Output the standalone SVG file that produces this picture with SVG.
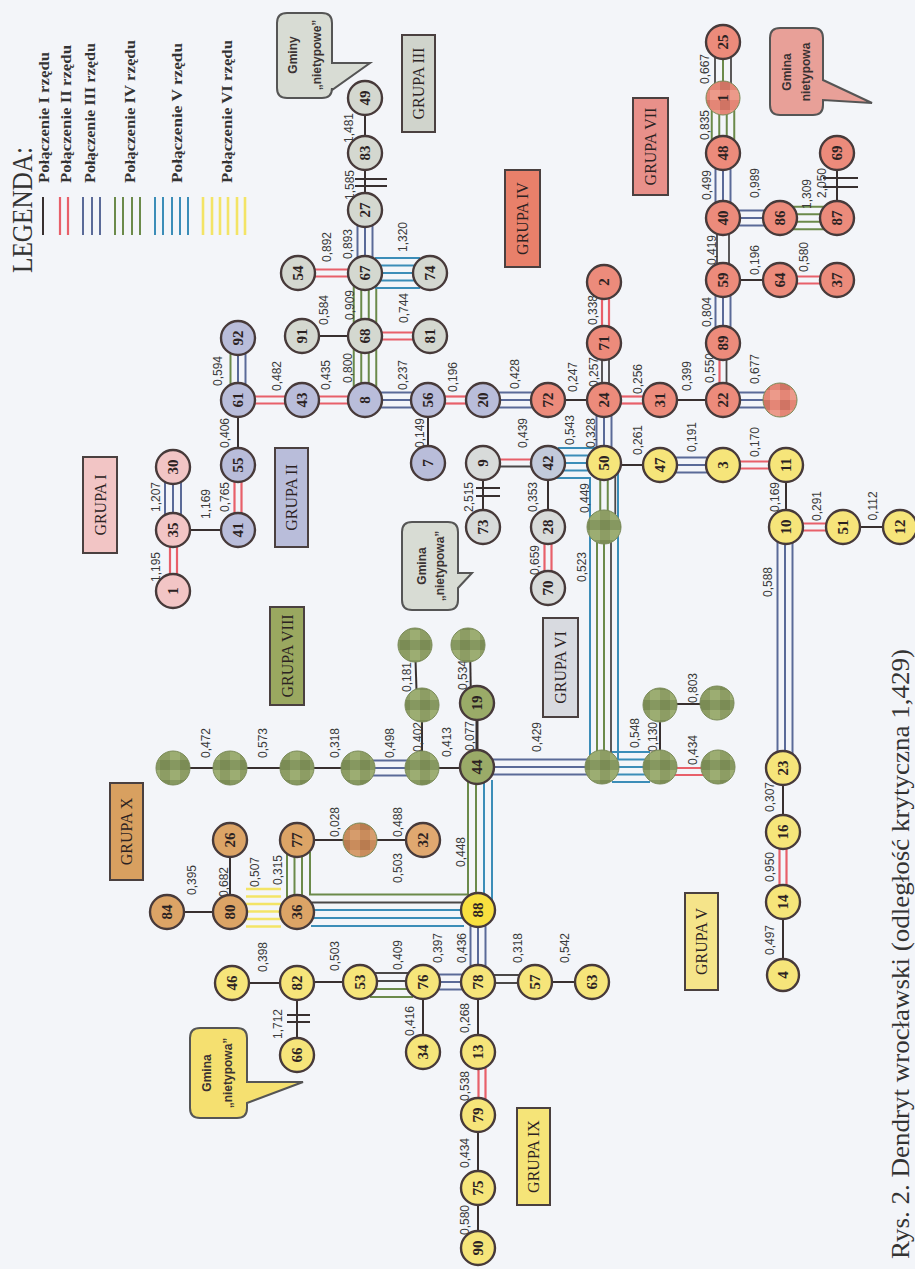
<svg xmlns="http://www.w3.org/2000/svg" width="915" height="1269" viewBox="0 0 915 1269">
<defs>
<pattern id="mg" width="20" height="20" patternUnits="userSpaceOnUse"><rect width="20" height="20" fill="#8d9d64"/><rect width="10" height="10" fill="#7b8c55"/><rect x="10" y="10" width="10" height="10" fill="#9cad72"/><rect x="10" width="10" height="10" fill="#869860"/></pattern>
<pattern id="mo" width="20" height="20" patternUnits="userSpaceOnUse"><rect width="20" height="20" fill="#c98c5c"/><rect width="10" height="10" fill="#b97c50"/><rect x="10" y="10" width="10" height="10" fill="#d69c6c"/></pattern>
<pattern id="ms" width="20" height="20" patternUnits="userSpaceOnUse"><rect width="20" height="20" fill="#e48676"/><rect width="10" height="10" fill="#d07464"/><rect x="10" y="10" width="10" height="10" fill="#ec9a8a"/></pattern>
</defs>
<style>
.k{stroke:#383030;stroke-width:2}
.r{stroke:#e8606a;stroke-width:2.2}
.b{stroke:#5a6a98;stroke-width:2}
.g{stroke:#6b8a4a;stroke-width:2}
.t{stroke:#3b8db8;stroke-width:2}
.y{stroke:#f3e466;stroke-width:2.6}
.d{stroke:#4a4848;stroke-width:1.8}
circle{stroke:#473a3a;stroke-width:2.4}
circle.m{stroke:#7a8a58;stroke-width:1}
.cI{fill:#f2c5c5}.cII{fill:#b9bdda}.cIII{fill:#d4d8d0}.cIV{fill:#ec8b7b}.cV{fill:#f6e57a}.cX{fill:#dca466}.cG{fill:#d8dbda}.c42{fill:#c2cadb}.cVIII{fill:#9aab68}
.nl{font-family:"Liberation Serif",serif;font-weight:bold;font-size:15px;text-anchor:middle;dominant-baseline:central;fill:#2b2222}
.el{font-family:"Liberation Sans",sans-serif;font-size:12px;text-anchor:middle;dominant-baseline:central;fill:#3a3a3a}
.gb{stroke:#4a4040;stroke-width:2}
.gt{font-family:"Liberation Serif",serif;font-size:16px;text-anchor:middle;dominant-baseline:central;fill:#2b2222}
.bt{font-family:"Liberation Sans",sans-serif;font-weight:bold;font-size:12px;text-anchor:middle;dominant-baseline:central;fill:#3a3232}
.lg{font-family:"Liberation Serif",serif;font-weight:bold;font-size:14px;fill:#333}
</style>
<rect width="915" height="1269" fill="#f3f5f9"/>

<g id="legend">
<text transform="translate(32 273) rotate(-90)" font-family="Liberation Serif, serif" font-size="29" fill="#333" textLength="126" lengthAdjust="spacingAndGlyphs">LEGENDA:</text>
<text class="lg" transform="translate(49 183) rotate(-90)" textLength="131" lengthAdjust="spacingAndGlyphs">Połączenie I  rzędu</text>
<text class="lg" transform="translate(71 183) rotate(-90)" textLength="138" lengthAdjust="spacingAndGlyphs">Połączenie II  rzędu</text>
<text class="lg" transform="translate(95 183) rotate(-90)" textLength="140" lengthAdjust="spacingAndGlyphs">Połączenie III rzędu</text>
<text class="lg" transform="translate(135 183) rotate(-90)" textLength="143" lengthAdjust="spacingAndGlyphs">Połączenie IV  rzędu</text>
<text class="lg" transform="translate(182 183) rotate(-90)" textLength="140" lengthAdjust="spacingAndGlyphs">Połączenie V  rzędu</text>
<text class="lg" transform="translate(232 183) rotate(-90)" textLength="143" lengthAdjust="spacingAndGlyphs">Połączenie VI  rzędu</text>
<line class="k" x1="43" y1="197" x2="43" y2="235"/>
<line class="r" x1="60" y1="197" x2="60" y2="235"/><line class="r" x1="68" y1="197" x2="68" y2="235"/>
<line class="b" x1="83" y1="197" x2="83" y2="235"/><line class="b" x1="92" y1="197" x2="92" y2="235"/><line class="b" x1="100" y1="197" x2="100" y2="235"/>
<line class="g" x1="115" y1="197" x2="115" y2="235"/><line class="g" x1="123" y1="197" x2="123" y2="235"/><line class="g" x1="132" y1="197" x2="132" y2="235"/><line class="g" x1="140" y1="197" x2="140" y2="235"/>
<line class="t" x1="155" y1="197" x2="155" y2="235"/><line class="t" x1="163" y1="197" x2="163" y2="235"/><line class="t" x1="172" y1="197" x2="172" y2="235"/><line class="t" x1="180" y1="197" x2="180" y2="235"/><line class="t" x1="188" y1="197" x2="188" y2="235"/>
<line class="y" x1="203" y1="197" x2="203" y2="235"/><line class="y" x1="212" y1="197" x2="212" y2="235"/><line class="y" x1="220" y1="197" x2="220" y2="235"/><line class="y" x1="228" y1="197" x2="228" y2="235"/><line class="y" x1="237" y1="197" x2="237" y2="235"/><line class="y" x1="245" y1="197" x2="245" y2="235"/>
</g>

<g id="group-labels">
<rect class="gb" x="83" y="457" width="34" height="96" fill="#f2c5c5"/><text class="gt" transform="translate(100 505) rotate(-90)">GRUPA I</text>
<rect class="gb" x="275" y="448" width="33" height="99" fill="#b9bdda"/><text class="gt" transform="translate(291.5 497.5) rotate(-90)">GRUPA II</text>
<rect class="gb" x="402" y="35" width="33" height="97" fill="#d0d4cc"/><text class="gt" transform="translate(418.5 83.5) rotate(-90)">GRUPA III</text>
<rect class="gb" x="505" y="170" width="35" height="97" fill="#e8806a"/><text class="gt" transform="translate(522.5 218.5) rotate(-90)">GRUPA IV</text>
<rect class="gb" x="685" y="893" width="33" height="97" fill="#f5e48a"/><text class="gt" transform="translate(701.5 941.5) rotate(-90)">GRUPA V</text>
<rect class="gb" x="543" y="618" width="35" height="99" fill="#d8dae0"/><text class="gt" transform="translate(560.5 667.5) rotate(-90)">GRUPA VI</text>
<rect class="gb" x="633" y="98" width="35" height="97" fill="#e8908a"/><text class="gt" transform="translate(650.5 146.5) rotate(-90)">GRUPA VII</text>
<rect class="gb" x="270" y="607" width="34" height="98" fill="#9aa860"/><text class="gt" transform="translate(287 656) rotate(-90)">GRUPA VIII</text>
<rect class="gb" x="517" y="1108" width="33" height="97" fill="#f5e478"/><text class="gt" transform="translate(533.5 1156.5) rotate(-90)">GRUPA IX</text>
<rect class="gb" x="110" y="783" width="33" height="97" fill="#d8a060"/><text class="gt" transform="translate(126.5 831.5) rotate(-90)">GRUPA X</text>
</g>

<g id="callouts">
<g id="callout-3">
<path d="M287 13 H322 Q332 13 332 23 V63 H370 L332 90 V88 Q332 98 322 98 H287 Q277 98 277 88 V23 Q277 13 287 13 Z" fill="#d8dcd4" stroke="#555" stroke-width="2"/>
<text class="bt" transform="translate(293 55) rotate(-90)">Gminy</text>
<text class="bt" transform="translate(317 55) rotate(-90)">„nietypowe”</text>
</g>
<g id="callout-7">
<path d="M780 28 H813 Q823 28 823 38 V80 L872 103 L823 100 V105 Q823 115 813 115 H780 Q770 115 770 105 V38 Q770 28 780 28 Z" fill="#e8a098" stroke="#555" stroke-width="2"/>
<text class="bt" transform="translate(787 72) rotate(-90)">Gmina</text>
<text class="bt" transform="translate(806 72) rotate(-90)">nietypowa</text>
</g>
<g id="callout-6">
<path d="M412 522 H448 Q458 522 458 532 V573 H472 L458 588 V600 Q458 610 448 610 H412 Q402 610 402 600 V532 Q402 522 412 522 Z" fill="#d8dcd4" stroke="#555" stroke-width="2"/>
<text class="bt" transform="translate(422 566) rotate(-90)">Gmina</text>
<text class="bt" transform="translate(440 566) rotate(-90)">„nietypowa”</text>
</g>
<g id="callout-9">
<path d="M200 1028 H237 Q247 1028 247 1038 V1082 H303 L247 1103 V1108 Q247 1118 237 1118 H200 Q190 1118 190 1108 V1038 Q190 1028 200 1028 Z" fill="#f5e070" stroke="#555" stroke-width="2"/>
<text class="bt" transform="translate(207 1073) rotate(-90)">Gmina</text>
<text class="bt" transform="translate(228 1073) rotate(-90)">„nietypowa”</text>
</g>
</g>

<g id="connectors" fill="none">
<line class="r" x1="170" y1="542" x2="170" y2="579"/><line class="r" x1="177" y1="542" x2="177" y2="579"/>
<line class="b" x1="165" y1="479" x2="165" y2="518"/><line class="b" x1="173" y1="479" x2="173" y2="518"/><line class="b" x1="181" y1="479" x2="181" y2="518"/>
<line class="k" x1="173" y1="530" x2="238" y2="530"/>
<line class="r" x1="234.5" y1="477" x2="234.5" y2="518"/><line class="r" x1="241.5" y1="477" x2="241.5" y2="518"/>
<line class="k" x1="238" y1="400" x2="238" y2="465"/>
<line class="g" x1="230.5" y1="350" x2="230.5" y2="388"/><line class="b" x1="238" y1="350" x2="238" y2="388"/><line class="b" x1="245.5" y1="350" x2="245.5" y2="388"/>
<line class="r" x1="250" y1="396.5" x2="290" y2="396.5"/><line class="r" x1="250" y1="403.5" x2="290" y2="403.5"/>
<line class="r" x1="314" y1="396.5" x2="353" y2="396.5"/><line class="r" x1="314" y1="403.5" x2="353" y2="403.5"/>
<line class="g" x1="353.75" y1="348" x2="353.75" y2="388"/><line class="g" x1="361.25" y1="348" x2="361.25" y2="388"/><line class="g" x1="368.75" y1="348" x2="368.75" y2="388"/><line class="g" x1="376.25" y1="348" x2="376.25" y2="388"/>
<line class="b" x1="377" y1="392.5" x2="416" y2="392.5"/><line class="b" x1="377" y1="400" x2="416" y2="400"/><line class="b" x1="377" y1="407.5" x2="416" y2="407.5"/>
<line class="k" x1="428" y1="400" x2="428" y2="463"/>
<line class="r" x1="440" y1="396.5" x2="471" y2="396.5"/><line class="r" x1="440" y1="403.5" x2="471" y2="403.5"/>
<line class="b" x1="495" y1="392.5" x2="536" y2="392.5"/><line class="b" x1="495" y1="400" x2="536" y2="400"/><line class="b" x1="495" y1="407.5" x2="536" y2="407.5"/>
<line class="k" x1="548" y1="400" x2="604" y2="400"/>
<line class="k" x1="302" y1="336" x2="365" y2="336"/>
<line class="r" x1="377" y1="332.5" x2="418" y2="332.5"/><line class="r" x1="377" y1="339.5" x2="418" y2="339.5"/>
<line class="g" x1="353.75" y1="285" x2="353.75" y2="324"/><line class="g" x1="361.25" y1="285" x2="361.25" y2="324"/><line class="g" x1="368.75" y1="285" x2="368.75" y2="324"/><line class="g" x1="376.25" y1="285" x2="376.25" y2="324"/>
<line class="r" x1="310" y1="269.5" x2="353" y2="269.5"/><line class="r" x1="310" y1="276.5" x2="353" y2="276.5"/>
<line class="t" x1="375" y1="258" x2="420" y2="258"/><line class="t" x1="377" y1="265.5" x2="418" y2="265.5"/><line class="t" x1="377" y1="273" x2="418" y2="273"/><line class="t" x1="377" y1="280.5" x2="418" y2="280.5"/><line class="t" x1="375" y1="288" x2="420" y2="288"/>
<line class="b" x1="357.5" y1="222" x2="357.5" y2="261"/><line class="b" x1="365" y1="222" x2="365" y2="261"/><line class="b" x1="372.5" y1="222" x2="372.5" y2="261"/>
<line class="k" x1="365" y1="153" x2="365" y2="210"/>
<line class="k" x1="355" y1="179" x2="387" y2="179"/><line class="k" x1="355" y1="186" x2="387" y2="186"/>
<line class="k" x1="365" y1="98" x2="365" y2="153"/>
<line class="r" x1="602" y1="294" x2="602" y2="331"/><line class="r" x1="609" y1="294" x2="609" y2="331"/>
<line class="d" x1="602" y1="355" x2="602" y2="388"/><line class="d" x1="609" y1="355" x2="609" y2="388"/>
<line class="r" x1="616" y1="396.5" x2="648" y2="396.5"/><line class="r" x1="616" y1="403.5" x2="648" y2="403.5"/>
<line class="k" x1="660" y1="400" x2="723" y2="400"/>
<line class="r" x1="719.5" y1="355" x2="719.5" y2="388"/><line class="d" x1="726.5" y1="355" x2="726.5" y2="388"/>
<line class="b" x1="735" y1="392.5" x2="768" y2="392.5"/><line class="b" x1="735" y1="400" x2="768" y2="400"/><line class="b" x1="735" y1="407.5" x2="768" y2="407.5"/>
<line class="b" x1="715.5" y1="292" x2="715.5" y2="331"/><line class="b" x1="723" y1="292" x2="723" y2="331"/><line class="b" x1="730.5" y1="292" x2="730.5" y2="331"/>
<line class="d" x1="717" y1="230" x2="717" y2="268"/><line class="d" x1="729" y1="230" x2="729" y2="268"/>
<line class="b" x1="715.5" y1="165" x2="715.5" y2="206"/><line class="b" x1="723" y1="165" x2="723" y2="206"/><line class="b" x1="730.5" y1="165" x2="730.5" y2="206"/>
<line class="g" x1="711.75" y1="110" x2="711.75" y2="141"/><line class="g" x1="719.25" y1="110" x2="719.25" y2="141"/><line class="g" x1="726.75" y1="110" x2="726.75" y2="141"/><line class="g" x1="734.25" y1="110" x2="734.25" y2="141"/>
<line class="d" x1="715" y1="54" x2="715" y2="86"/><line class="g" x1="723" y1="54" x2="723" y2="86"/><line class="d" x1="731" y1="54" x2="731" y2="86"/>
<line class="b" x1="735" y1="210.5" x2="768" y2="210.5"/><line class="b" x1="735" y1="218" x2="768" y2="218"/><line class="b" x1="735" y1="225.5" x2="768" y2="225.5"/>
<line class="g" x1="792" y1="206.75" x2="825" y2="206.75"/><line class="g" x1="792" y1="214.25" x2="825" y2="214.25"/><line class="g" x1="792" y1="221.75" x2="825" y2="221.75"/><line class="g" x1="792" y1="229.25" x2="825" y2="229.25"/>
<line class="k" x1="837" y1="153" x2="837" y2="218"/>
<line class="k" x1="823" y1="178" x2="858" y2="178"/><line class="k" x1="823" y1="187" x2="858" y2="187"/>
<line class="k" x1="723" y1="280" x2="780" y2="280"/>
<line class="r" x1="792" y1="276.5" x2="825" y2="276.5"/><line class="r" x1="792" y1="283.5" x2="825" y2="283.5"/>
<line class="b" x1="596.5" y1="412" x2="596.5" y2="451"/><line class="b" x1="604" y1="412" x2="604" y2="451"/><line class="b" x1="611.5" y1="412" x2="611.5" y2="451"/>
<line class="g" x1="600.25" y1="475" x2="600.25" y2="515"/><line class="g" x1="607.75" y1="475" x2="607.75" y2="515"/><line class="d" x1="615.25" y1="475" x2="615.25" y2="515"/>
<path class="t" d="M556 478 H590 V755"/>
<line class="g" x1="597" y1="539" x2="597" y2="755"/><line class="g" x1="604" y1="539" x2="604" y2="755"/><line class="d" x1="611" y1="539" x2="611" y2="755"/><line class="t" x1="618" y1="470" x2="618" y2="760"/>
<line class="t" x1="558" y1="448" x2="596" y2="448"/><line class="t" x1="560" y1="455.5" x2="592" y2="455.5"/><line class="t" x1="560" y1="463" x2="592" y2="463"/><line class="t" x1="560" y1="470.5" x2="592" y2="470.5"/>
<line class="k" x1="604" y1="465" x2="660" y2="465"/>
<line class="b" x1="672" y1="457.5" x2="711" y2="457.5"/><line class="b" x1="672" y1="465" x2="711" y2="465"/><line class="b" x1="672" y1="472.5" x2="711" y2="472.5"/>
<line class="r" x1="735" y1="461.5" x2="774" y2="461.5"/><line class="r" x1="735" y1="468.5" x2="774" y2="468.5"/>
<line class="k" x1="786" y1="465" x2="786" y2="527"/>
<line class="r" x1="798" y1="523.5" x2="831" y2="523.5"/><line class="r" x1="798" y1="530.5" x2="831" y2="530.5"/>
<line class="k" x1="843" y1="527" x2="900" y2="527"/>
<line class="b" x1="777.5" y1="539" x2="777.5" y2="756"/><line class="b" x1="785" y1="539" x2="785" y2="756"/><line class="b" x1="792.5" y1="539" x2="792.5" y2="756"/>
<line class="k" x1="783" y1="768" x2="783" y2="832"/>
<line class="r" x1="779.5" y1="844" x2="779.5" y2="890"/><line class="r" x1="786.5" y1="844" x2="786.5" y2="890"/>
<line class="k" x1="783" y1="902" x2="783" y2="975"/>
<line class="r" x1="495" y1="459.5" x2="536" y2="459.5"/><line class="d" x1="495" y1="466.5" x2="536" y2="466.5"/>
<line class="k" x1="483" y1="463" x2="483" y2="527"/>
<line class="k" x1="476" y1="488" x2="500" y2="488"/><line class="k" x1="476" y1="496" x2="500" y2="496"/>
<line class="k" x1="548" y1="463" x2="548" y2="527"/>
<line class="r" x1="544.5" y1="539" x2="544.5" y2="576"/><line class="r" x1="551.5" y1="539" x2="551.5" y2="576"/>
<line class="k" x1="173" y1="768" x2="358" y2="768"/>
<line class="b" x1="370" y1="760.5" x2="410" y2="760.5"/><line class="b" x1="370" y1="768" x2="410" y2="768"/><line class="b" x1="370" y1="775.5" x2="410" y2="775.5"/>
<line class="k" x1="422" y1="768" x2="477" y2="768"/>
<line class="k" x1="422" y1="705" x2="422" y2="768"/>
<line class="k" x1="415" y1="645" x2="417" y2="705"/>
<line class="k" x1="470" y1="645" x2="471" y2="703"/>
<line class="k" x1="477" y1="703" x2="477" y2="767" style="stroke-width:3"/>
<line class="b" x1="489" y1="759.5" x2="590" y2="759.5"/><line class="b" x1="489" y1="767" x2="590" y2="767"/><line class="b" x1="489" y1="774.5" x2="590" y2="774.5"/>
<path class="g" d="M468 780 V894.5 H310 V852"/>
<line class="g" x1="476" y1="782" x2="476" y2="898"/><line class="t" x1="484" y1="782" x2="484" y2="898"/><line class="t" x1="492" y1="780" x2="492" y2="900"/>
<line class="d" x1="312" y1="902.5" x2="466" y2="902.5"/><line class="t" x1="309" y1="910" x2="466" y2="910"/><line class="t" x1="309" y1="918" x2="466" y2="918"/><line class="t" x1="311" y1="926" x2="464" y2="926"/>
<line class="k" x1="167" y1="912" x2="230" y2="912"/>
<line class="k" x1="230" y1="840" x2="230" y2="912"/>
<line class="y" x1="246" y1="889" x2="281" y2="889"/><line class="y" x1="246" y1="896.5" x2="281" y2="896.5"/><line class="y" x1="246" y1="904" x2="281" y2="904"/><line class="y" x1="246" y1="911.5" x2="281" y2="911.5"/><line class="y" x1="246" y1="919" x2="281" y2="919"/><line class="y" x1="246" y1="926.5" x2="281" y2="926.5"/>
<line class="g" x1="287" y1="852" x2="287" y2="900"/><line class="g" x1="294.5" y1="852" x2="294.5" y2="900"/><line class="g" x1="302" y1="852" x2="302" y2="900"/>
<line class="k" x1="297" y1="840" x2="423" y2="840"/>
<line class="k" x1="232" y1="983" x2="297" y2="983"/>
<line class="k" x1="297" y1="983" x2="297" y2="1055"/>
<line class="k" x1="287" y1="1015" x2="310" y2="1015"/><line class="k" x1="287" y1="1022" x2="310" y2="1022"/>
<line class="k" x1="297" y1="982" x2="360" y2="982"/>
<line class="d" x1="372" y1="973" x2="411" y2="973"/><line class="d" x1="372" y1="981" x2="411" y2="981"/><line class="g" x1="372" y1="989" x2="411" y2="989"/><line class="g" x1="370" y1="997" x2="413" y2="997"/>
<line class="b" x1="435" y1="974.5" x2="466" y2="974.5"/><line class="b" x1="435" y1="982" x2="466" y2="982"/><line class="b" x1="435" y1="989.5" x2="466" y2="989.5"/>
<line class="b" x1="470.5" y1="922" x2="470.5" y2="970"/><line class="b" x1="478" y1="922" x2="478" y2="970"/><line class="b" x1="485.5" y1="922" x2="485.5" y2="970"/>
<line class="d" x1="490" y1="975" x2="523" y2="975"/><line class="d" x1="490" y1="983" x2="523" y2="983"/>
<line class="k" x1="535" y1="982" x2="592" y2="982"/>
<line class="k" x1="423" y1="982" x2="423" y2="1052"/>
<line class="k" x1="478" y1="982" x2="478" y2="1052"/>
<line class="r" x1="478.5" y1="1064" x2="478.5" y2="1103"/><line class="r" x1="485.5" y1="1064" x2="485.5" y2="1103"/>
<line class="k" x1="478" y1="1115" x2="478" y2="1248"/>
<line class="t" x1="612" y1="752" x2="650" y2="752"/><line class="t" x1="614" y1="759.5" x2="648" y2="759.5"/><line class="t" x1="614" y1="767" x2="648" y2="767"/><line class="t" x1="614" y1="774.5" x2="648" y2="774.5"/><line class="t" x1="612" y1="782" x2="650" y2="782"/>
<line class="k" x1="660" y1="705" x2="660" y2="767"/>
<line class="k" x1="660" y1="704" x2="717" y2="704"/>
<line class="r" x1="672" y1="768" x2="706" y2="768"/><line class="r" x1="672" y1="775" x2="706" y2="775"/>
</g>

<g id="edge-labels">
<text class="el" transform="translate(349 128) rotate(-90)">1,481</text>
<text class="el" transform="translate(350 185) rotate(-90)">1,585</text>
<text class="el" transform="translate(327 247) rotate(-90)">0,892</text>
<text class="el" transform="translate(348 244) rotate(-90)">0,893</text>
<text class="el" transform="translate(403 237) rotate(-90)">1,320</text>
<text class="el" transform="translate(324 310) rotate(-90)">0,584</text>
<text class="el" transform="translate(350 305) rotate(-90)">0,909</text>
<text class="el" transform="translate(404 308) rotate(-90)">0,744</text>
<text class="el" transform="translate(593 310) rotate(-90)">0,338</text>
<text class="el" transform="translate(705 69) rotate(-90)">0,667</text>
<text class="el" transform="translate(705 125) rotate(-90)">0,835</text>
<text class="el" transform="translate(707 185) rotate(-90)">0,499</text>
<text class="el" transform="translate(755 183) rotate(-90)">0,989</text>
<text class="el" transform="translate(807 194) rotate(-90)">1,309</text>
<text class="el" transform="translate(822 183) rotate(-90)">2,050</text>
<text class="el" transform="translate(712 250) rotate(-90)">0,419</text>
<text class="el" transform="translate(755 260) rotate(-90)">0,196</text>
<text class="el" transform="translate(804 257) rotate(-90)">0,580</text>
<text class="el" transform="translate(707 312) rotate(-90)">0,804</text>
<text class="el" transform="translate(156 497) rotate(-90)">1,207</text>
<text class="el" transform="translate(206 504) rotate(-90)">1,169</text>
<text class="el" transform="translate(156 567) rotate(-90)">1,195</text>
<text class="el" transform="translate(225 497) rotate(-90)">0,765</text>
<text class="el" transform="translate(225 433) rotate(-90)">0,406</text>
<text class="el" transform="translate(218 371) rotate(-90)">0,594</text>
<text class="el" transform="translate(277 376) rotate(-90)">0,482</text>
<text class="el" transform="translate(326 375) rotate(-90)">0,435</text>
<text class="el" transform="translate(348 368) rotate(-90)">0,800</text>
<text class="el" transform="translate(403 375) rotate(-90)">0,237</text>
<text class="el" transform="translate(453 377) rotate(-90)">0,196</text>
<text class="el" transform="translate(515 374) rotate(-90)">0,428</text>
<text class="el" transform="translate(573 377) rotate(-90)">0,247</text>
<text class="el" transform="translate(594 372) rotate(-90)">0,257</text>
<text class="el" transform="translate(420 433) rotate(-90)">0,149</text>
<text class="el" transform="translate(523 433) rotate(-90)">0,439</text>
<text class="el" transform="translate(570 430) rotate(-90)">0,543</text>
<text class="el" transform="translate(591 433) rotate(-90)">0,328</text>
<text class="el" transform="translate(469 497) rotate(-90)">2,515</text>
<text class="el" transform="translate(533 497) rotate(-90)">0,353</text>
<text class="el" transform="translate(535 560) rotate(-90)">0,659</text>
<text class="el" transform="translate(585 498) rotate(-90)">0,449</text>
<text class="el" transform="translate(582 567) rotate(-90)">0,523</text>
<text class="el" transform="translate(638 379) rotate(-90)">0,256</text>
<text class="el" transform="translate(687 376) rotate(-90)">0,399</text>
<text class="el" transform="translate(710 368) rotate(-90)">0,550</text>
<text class="el" transform="translate(755 369) rotate(-90)">0,677</text>
<text class="el" transform="translate(638 440) rotate(-90)">0,261</text>
<text class="el" transform="translate(692 437) rotate(-90)">0,191</text>
<text class="el" transform="translate(755 442) rotate(-90)">0,170</text>
<text class="el" transform="translate(775 497) rotate(-90)">0,169</text>
<text class="el" transform="translate(817 506) rotate(-90)">0,291</text>
<text class="el" transform="translate(873 506) rotate(-90)">0,112</text>
<text class="el" transform="translate(768 582) rotate(-90)">0,588</text>
<text class="el" transform="translate(206 743) rotate(-90)">0,472</text>
<text class="el" transform="translate(263 743) rotate(-90)">0,573</text>
<text class="el" transform="translate(192 880) rotate(-90)">0,395</text>
<text class="el" transform="translate(224 882) rotate(-90)">0,682</text>
<text class="el" transform="translate(255 872) rotate(-90)">0,507</text>
<text class="el" transform="translate(278 870) rotate(-90)">0,315</text>
<text class="el" transform="translate(263 957) rotate(-90)">0,398</text>
<text class="el" transform="translate(407 677) rotate(-90)">0,181</text>
<text class="el" transform="translate(463 675) rotate(-90)">0,534</text>
<text class="el" transform="translate(390 743) rotate(-90)">0,498</text>
<text class="el" transform="translate(418 737) rotate(-90)">0,402</text>
<text class="el" transform="translate(447 742) rotate(-90)">0,413</text>
<text class="el" transform="translate(470 736) rotate(-90)">0,077</text>
<text class="el" transform="translate(537 737) rotate(-90)">0,429</text>
<text class="el" transform="translate(335 743) rotate(-90)">0,318</text>
<text class="el" transform="translate(335 822) rotate(-90)">0,028</text>
<text class="el" transform="translate(398 822) rotate(-90)">0,488</text>
<text class="el" transform="translate(398 868) rotate(-90)">0,503</text>
<text class="el" transform="translate(461 852) rotate(-90)">0,448</text>
<text class="el" transform="translate(335 956) rotate(-90)">0,503</text>
<text class="el" transform="translate(398 955) rotate(-90)">0,409</text>
<text class="el" transform="translate(438 948) rotate(-90)">0,397</text>
<text class="el" transform="translate(462 948) rotate(-90)">0,436</text>
<text class="el" transform="translate(518 948) rotate(-90)">0,318</text>
<text class="el" transform="translate(565 948) rotate(-90)">0,542</text>
<text class="el" transform="translate(635 733) rotate(-90)">0,548</text>
<text class="el" transform="translate(653 737) rotate(-90)">0,130</text>
<text class="el" transform="translate(693 688) rotate(-90)">0,803</text>
<text class="el" transform="translate(693 750) rotate(-90)">0,434</text>
<text class="el" transform="translate(770 797) rotate(-90)">0,307</text>
<text class="el" transform="translate(770 867) rotate(-90)">0,950</text>
<text class="el" transform="translate(770 940) rotate(-90)">0,497</text>
<text class="el" transform="translate(278 1024) rotate(-90)">1,712</text>
<text class="el" transform="translate(410 1021) rotate(-90)">0,416</text>
<text class="el" transform="translate(465 1018) rotate(-90)">0,268</text>
<text class="el" transform="translate(465 1086) rotate(-90)">0,538</text>
<text class="el" transform="translate(465 1153) rotate(-90)">0,434</text>
<text class="el" transform="translate(465 1220) rotate(-90)">0,580</text>
</g>

<g id="nodes">
<g id="n1"><circle class="cI" cx="173" cy="591" r="17"/><text class="nl" transform="translate(173 591) rotate(-90)">1</text></g>
<g id="n35"><circle class="cI" cx="173" cy="530" r="17"/><text class="nl" transform="translate(173 530) rotate(-90)">35</text></g>
<g id="n30"><circle class="cI" cx="173" cy="467" r="17"/><text class="nl" transform="translate(173 467) rotate(-90)">30</text></g>
<g id="n41"><circle class="cII" cx="238" cy="530" r="17"/><text class="nl" transform="translate(238 530) rotate(-90)">41</text></g>
<g id="n55"><circle class="cII" cx="238" cy="465" r="17"/><text class="nl" transform="translate(238 465) rotate(-90)">55</text></g>
<g id="n61"><circle class="cII" cx="238" cy="400" r="17"/><text class="nl" transform="translate(238 400) rotate(-90)">61</text></g>
<g id="n92"><circle class="cII" cx="238" cy="338" r="17"/><text class="nl" transform="translate(238 338) rotate(-90)">92</text></g>
<g id="n43"><circle class="cII" cx="302" cy="400" r="17"/><text class="nl" transform="translate(302 400) rotate(-90)">43</text></g>
<g id="n8"><circle class="cII" cx="365" cy="400" r="17"/><text class="nl" transform="translate(365 400) rotate(-90)">8</text></g>
<g id="n56"><circle class="cII" cx="428" cy="400" r="17"/><text class="nl" transform="translate(428 400) rotate(-90)">56</text></g>
<g id="n7"><circle class="cII" cx="428" cy="463" r="17"/><text class="nl" transform="translate(428 463) rotate(-90)">7</text></g>
<g id="n20"><circle class="cII" cx="483" cy="400" r="17"/><text class="nl" transform="translate(483 400) rotate(-90)">20</text></g>
<g id="n9"><circle class="cG" cx="483" cy="463" r="17"/><text class="nl" transform="translate(483 463) rotate(-90)">9</text></g>
<g id="n73"><circle class="cG" cx="483" cy="527" r="17"/><text class="nl" transform="translate(483 527) rotate(-90)">73</text></g>
<g id="n28"><circle class="cG" cx="548" cy="527" r="17"/><text class="nl" transform="translate(548 527) rotate(-90)">28</text></g>
<g id="n70"><circle class="cG" cx="548" cy="588" r="17"/><text class="nl" transform="translate(548 588) rotate(-90)">70</text></g>
<g id="n42"><circle class="c42" cx="548" cy="463" r="17"/><text class="nl" transform="translate(548 463) rotate(-90)">42</text></g>
<g id="n49"><circle class="cIII" cx="365" cy="98" r="17"/><text class="nl" transform="translate(365 98) rotate(-90)">49</text></g>
<g id="n83"><circle class="cIII" cx="365" cy="153" r="17"/><text class="nl" transform="translate(365 153) rotate(-90)">83</text></g>
<g id="n27"><circle class="cIII" cx="365" cy="210" r="17"/><text class="nl" transform="translate(365 210) rotate(-90)">27</text></g>
<g id="n67"><circle class="cIII" cx="365" cy="273" r="17"/><text class="nl" transform="translate(365 273) rotate(-90)">67</text></g>
<g id="n74"><circle class="cIII" cx="430" cy="273" r="17"/><text class="nl" transform="translate(430 273) rotate(-90)">74</text></g>
<g id="n54"><circle class="cIII" cx="298" cy="273" r="17"/><text class="nl" transform="translate(298 273) rotate(-90)">54</text></g>
<g id="n68"><circle class="cIII" cx="365" cy="336" r="17"/><text class="nl" transform="translate(365 336) rotate(-90)">68</text></g>
<g id="n91"><circle class="cIII" cx="302" cy="336" r="17"/><text class="nl" transform="translate(302 336) rotate(-90)">91</text></g>
<g id="n81"><circle class="cIII" cx="430" cy="336" r="17"/><text class="nl" transform="translate(430 336) rotate(-90)">81</text></g>
<g id="n72"><circle class="cIV" cx="548" cy="400" r="17"/><text class="nl" transform="translate(548 400) rotate(-90)">72</text></g>
<g id="n24"><circle class="cIV" cx="604" cy="400" r="17"/><text class="nl" transform="translate(604 400) rotate(-90)">24</text></g>
<g id="n71"><circle class="cIV" cx="604" cy="343" r="17"/><text class="nl" transform="translate(604 343) rotate(-90)">71</text></g>
<g id="n2"><circle class="cIV" cx="604" cy="282" r="17"/><text class="nl" transform="translate(604 282) rotate(-90)">2</text></g>
<g id="n31"><circle class="cIV" cx="660" cy="400" r="17"/><text class="nl" transform="translate(660 400) rotate(-90)">31</text></g>
<g id="n22"><circle class="cIV" cx="723" cy="400" r="17"/><text class="nl" transform="translate(723 400) rotate(-90)">22</text></g>
<g id="n89"><circle class="cIV" cx="723" cy="343" r="17"/><text class="nl" transform="translate(723 343) rotate(-90)">89</text></g>
<g id="n59"><circle class="cIV" cx="723" cy="280" r="17"/><text class="nl" transform="translate(723 280) rotate(-90)">59</text></g>
<g id="n40"><circle class="cIV" cx="723" cy="218" r="17"/><text class="nl" transform="translate(723 218) rotate(-90)">40</text></g>
<g id="n48"><circle class="cIV" cx="723" cy="153" r="17"/><text class="nl" transform="translate(723 153) rotate(-90)">48</text></g>
<g id="n1b"><circle class="m" cx="723" cy="98" r="17" fill="url(#ms)"/><text class="nl" transform="translate(723 98) rotate(-90)" fill="#8a5048">1</text></g>
<g id="n25"><circle class="cIV" cx="723" cy="42" r="17"/><text class="nl" transform="translate(723 42) rotate(-90)">25</text></g>
<g id="n86"><circle class="cIV" cx="780" cy="218" r="17"/><text class="nl" transform="translate(780 218) rotate(-90)">86</text></g>
<g id="n87"><circle class="cIV" cx="837" cy="218" r="17"/><text class="nl" transform="translate(837 218) rotate(-90)">87</text></g>
<g id="n69"><circle class="cIV" cx="837" cy="153" r="17"/><text class="nl" transform="translate(837 153) rotate(-90)">69</text></g>
<g id="n64"><circle class="cIV" cx="780" cy="280" r="17"/><text class="nl" transform="translate(780 280) rotate(-90)">64</text></g>
<g id="n37"><circle class="cIV" cx="837" cy="280" r="17"/><text class="nl" transform="translate(837 280) rotate(-90)">37</text></g>
<g id="nS1"><circle class="m" cx="780" cy="400" r="17" fill="url(#ms)"/></g>
<g id="n50"><circle class="cV" cx="604" cy="463" r="17"/><text class="nl" transform="translate(604 463) rotate(-90)">50</text></g>
<g id="n47"><circle class="cV" cx="660" cy="465" r="17"/><text class="nl" transform="translate(660 465) rotate(-90)">47</text></g>
<g id="n3"><circle class="cV" cx="723" cy="465" r="17"/><text class="nl" transform="translate(723 465) rotate(-90)">3</text></g>
<g id="n11"><circle class="cV" cx="786" cy="465" r="17"/><text class="nl" transform="translate(786 465) rotate(-90)">11</text></g>
<g id="n10"><circle class="cV" cx="786" cy="527" r="17"/><text class="nl" transform="translate(786 527) rotate(-90)">10</text></g>
<g id="n51"><circle class="cV" cx="843" cy="527" r="17"/><text class="nl" transform="translate(843 527) rotate(-90)">51</text></g>
<g id="n12"><circle class="cV" cx="900" cy="527" r="17"/><text class="nl" transform="translate(900 527) rotate(-90)">12</text></g>
<g id="n23"><circle class="cV" cx="783" cy="768" r="17"/><text class="nl" transform="translate(783 768) rotate(-90)">23</text></g>
<g id="n16"><circle class="cV" cx="783" cy="832" r="17"/><text class="nl" transform="translate(783 832) rotate(-90)">16</text></g>
<g id="n14"><circle class="cV" cx="783" cy="902" r="17"/><text class="nl" transform="translate(783 902) rotate(-90)">14</text></g>
<g id="n4"><circle class="cV" cx="783" cy="975" r="16"/><text class="nl" transform="translate(783 975) rotate(-90)" font-size="12">4</text></g>
<g id="n46"><circle class="cV" cx="232" cy="983" r="17"/><text class="nl" transform="translate(232 983) rotate(-90)">46</text></g>
<g id="n82"><circle class="cV" cx="297" cy="983" r="17"/><text class="nl" transform="translate(297 983) rotate(-90)">82</text></g>
<g id="n66"><circle class="cV" cx="297" cy="1055" r="17"/><text class="nl" transform="translate(297 1055) rotate(-90)">66</text></g>
<g id="n53"><circle class="cV" cx="360" cy="982" r="17"/><text class="nl" transform="translate(360 982) rotate(-90)">53</text></g>
<g id="n76"><circle class="cV" cx="423" cy="982" r="17"/><text class="nl" transform="translate(423 982) rotate(-90)">76</text></g>
<g id="n34"><circle class="cV" cx="423" cy="1052" r="17"/><text class="nl" transform="translate(423 1052) rotate(-90)">34</text></g>
<g id="n78"><circle class="cV" cx="478" cy="982" r="17"/><text class="nl" transform="translate(478 982) rotate(-90)">78</text></g>
<g id="n57"><circle class="cV" cx="535" cy="982" r="17"/><text class="nl" transform="translate(535 982) rotate(-90)">57</text></g>
<g id="n63"><circle class="cV" cx="592" cy="982" r="17"/><text class="nl" transform="translate(592 982) rotate(-90)">63</text></g>
<g id="n13"><circle class="cV" cx="478" cy="1052" r="17"/><text class="nl" transform="translate(478 1052) rotate(-90)">13</text></g>
<g id="n79"><circle class="cV" cx="478" cy="1115" r="17"/><text class="nl" transform="translate(478 1115) rotate(-90)">79</text></g>
<g id="n75"><circle class="cV" cx="478" cy="1188" r="17"/><text class="nl" transform="translate(478 1188) rotate(-90)">75</text></g>
<g id="n90"><circle class="cV" cx="478" cy="1248" r="17"/><text class="nl" transform="translate(478 1248) rotate(-90)">90</text></g>
<g id="n88"><circle cx="478" cy="910" r="17" fill="#f8e040"/><text class="nl" transform="translate(478 910) rotate(-90)">88</text></g>
<g id="n84"><circle class="cX" cx="167" cy="912" r="17"/><text class="nl" transform="translate(167 912) rotate(-90)">84</text></g>
<g id="n80"><circle class="cX" cx="230" cy="912" r="17"/><text class="nl" transform="translate(230 912) rotate(-90)">80</text></g>
<g id="n26"><circle class="cX" cx="230" cy="840" r="17"/><text class="nl" transform="translate(230 840) rotate(-90)">26</text></g>
<g id="n36"><circle class="cX" cx="297" cy="912" r="17"/><text class="nl" transform="translate(297 912) rotate(-90)">36</text></g>
<g id="n77"><circle class="cX" cx="297" cy="840" r="17"/><text class="nl" transform="translate(297 840) rotate(-90)">77</text></g>
<g id="nO1"><circle class="m" cx="360" cy="840" r="17" fill="url(#mo)"/></g>
<g id="n32"><circle cx="423" cy="840" r="17" fill="#e0a870"/><text class="nl" transform="translate(423 840) rotate(-90)">32</text></g>
<g id="n19"><circle class="cVIII" cx="477" cy="703" r="17"/><text class="nl" transform="translate(477 703) rotate(-90)">19</text></g>
<g id="n44"><circle class="cVIII" cx="477" cy="767" r="17"/><text class="nl" transform="translate(477 767) rotate(-90)">44</text></g>
<g id="nG1"><circle class="m" cx="173" cy="768" r="17" fill="url(#mg)"/></g>
<g id="nG2"><circle class="m" cx="230" cy="768" r="17" fill="url(#mg)"/></g>
<g id="nG3"><circle class="m" cx="297" cy="768" r="17" fill="url(#mg)"/></g>
<g id="nG4"><circle class="m" cx="358" cy="768" r="17" fill="url(#mg)"/></g>
<g id="nG5"><circle class="m" cx="422" cy="768" r="17" fill="url(#mg)"/></g>
<g id="nG6"><circle class="m" cx="422" cy="705" r="17" fill="url(#mg)"/></g>
<g id="nG7"><circle class="m" cx="415" cy="645" r="17" fill="url(#mg)"/></g>
<g id="nG8"><circle class="m" cx="468" cy="645" r="17" fill="url(#mg)"/></g>
<g id="nG9"><circle class="m" cx="604" cy="527" r="17" fill="url(#mg)"/></g>
<g id="nG10"><circle class="m" cx="602" cy="767" r="17" fill="url(#mg)"/></g>
<g id="nG11"><circle class="m" cx="660" cy="767" r="17" fill="url(#mg)"/></g>
<g id="nG12"><circle class="m" cx="660" cy="705" r="17" fill="url(#mg)"/></g>
<g id="nG13"><circle class="m" cx="717" cy="703" r="17" fill="url(#mg)"/></g>
<g id="nG14"><circle class="m" cx="718" cy="767" r="17" fill="url(#mg)"/></g>
</g>

<text id="caption" transform="translate(909 1259) rotate(-90)" font-family="Liberation Serif, serif" font-size="26" fill="#333" textLength="610" lengthAdjust="spacingAndGlyphs">Rys. 2.  Dendryt wrocławski (odległość krytyczna 1,429)</text>
</svg>
